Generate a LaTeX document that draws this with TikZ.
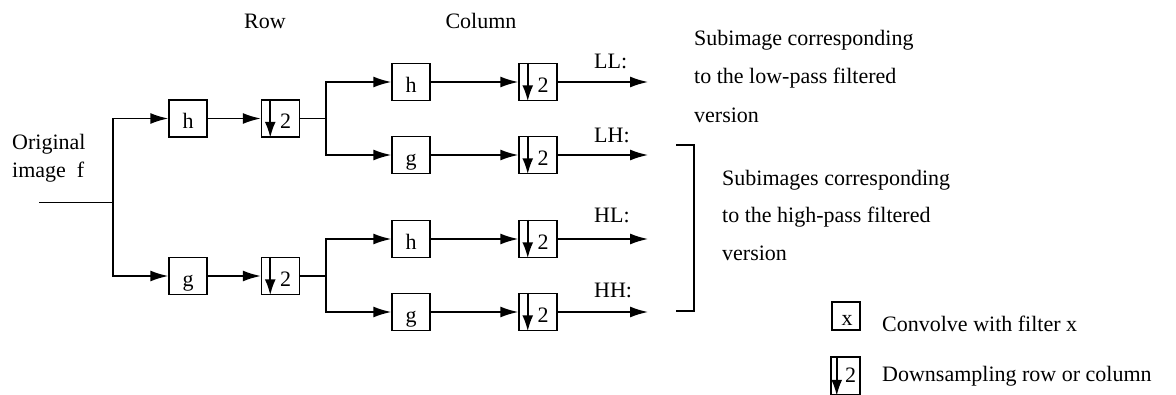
\documentclass[tikz,border=0pt]{standalone}
\usepackage{fontspec}
\setmainfont{Liberation Serif}
\usetikzlibrary{arrows.meta}
\tikzset{
  every node/.style={font=\fontsize{22}{26}\selectfont},
  conn/.style={line width=1.5pt},
  arr/.style={conn,-{Latex[length=18pt,width=11pt]}},
  dnarr/.style={line width=2pt,-{Latex[length=16pt,width=11pt]}},
  fbox/.style={draw,line width=1.5pt,minimum width=38pt,minimum height=37pt,inner sep=0pt,text height=20pt,text depth=0pt},
  dbox/.style={fbox},
  txt/.style={inner sep=0pt,anchor=base west},
}
\newcommand{\dnin}[2]{\draw[dnarr] ([xshift=#2]#1.north west) -- ([xshift=#2]#1.south west);}
\begin{document}
\begin{tikzpicture}[x=1pt,y=-1pt]
\clip (0,0) rectangle (1176,394);
% titles
\node[inner sep=0pt,anchor=base] (row) at (265,28) {Row};
\node[inner sep=0pt,anchor=base] (col) at (481,28) {Column};
\node[txt] (orig1) at (12,149) {Original};
\node[txt] (orig2) at (12,177) {image\ \ f};
% input
\coordinate (in) at (39,202.5);
\coordinate (sp) at (113,202.5);
% row stage
\node[fbox] (h1) at (188,118.5) {h};
\node[dbox] (d1) at (280.5,118.5) {\hspace*{10pt}2};
\node[fbox] (g1) at (188,276) {g};
\node[dbox] (d2) at (280.5,276) {\hspace*{10pt}2};
\dnin{d1}{9.5pt}
\dnin{d2}{9.5pt}
\coordinate (b1) at (326,118.5);
\coordinate (b2) at (326,276);
% column stage
\node[fbox] (h2) at (411,82) {h};
\node[fbox] (g2) at (411,155) {g};
\node[fbox] (h3) at (411,239) {h};
\node[fbox] (g3) at (411,312) {g};
\node[dbox] (d3) at (538,82) {\hspace*{10pt}2};
\node[dbox] (d4) at (538,155) {\hspace*{10pt}2};
\node[dbox] (d5) at (538,239) {\hspace*{10pt}2};
\node[dbox] (d6) at (538,312) {\hspace*{10pt}2};
\dnin{d3}{9.5pt}
\dnin{d4}{9.5pt}
\dnin{d5}{9.5pt}
\dnin{d6}{9.5pt}
\coordinate (o1) at (648,82);
\coordinate (o2) at (648,155);
\coordinate (o3) at (648,239);
\coordinate (o4) at (648,312);
% connectors
\draw[conn] (in) -- (sp);
\draw[arr] (sp) |- (h1.west);
\draw[arr] (sp) |- (g1.west);
\draw[arr] (h1) -- (d1);
\draw[arr] (g1) -- (d2);
\draw[conn] (d1.east) -- (b1);
\draw[conn] (d2.east) -- (b2);
\draw[arr] (b1) |- (h2.west);
\draw[arr] (b1) |- (g2.west);
\draw[arr] (b2) |- (h3.west);
\draw[arr] (b2) |- (g3.west);
\draw[arr] (h2) -- (d3);
\draw[arr] (g2) -- (d4);
\draw[arr] (h3) -- (d5);
\draw[arr] (g3) -- (d6);
\draw[arr] (d3.east) -- (o1);
\draw[arr] (d4.east) -- (o2);
\draw[arr] (d5.east) -- (o3);
\draw[arr] (d6.east) -- (o4);
% output labels
\node[txt] (LL) at (594,68) {LL:};
\node[txt] (LH) at (594,142) {LH:};
\node[txt] (HL) at (594,222) {HL:};
\node[txt] (HH) at (594,297) {HH:};
% bracket
\coordinate (bt) at (676,145);
\coordinate (bb) at (676,311);
\draw[conn] (bt) -- ++(18,0) |- (bb);
% descriptions
\node[txt] (s1) at (694,45) {Subimage corresponding};
\node[txt] (s2) at (694,83) {to the low-pass filtered};
\node[txt] (s3) at (694,122) {version};
\node[txt] (t1) at (722,185) {Subimages corresponding};
\node[txt] (t2) at (722,222) {to the high-pass filtered};
\node[txt] (t3) at (722,260) {version};
% legend
\node[fbox,minimum width=28pt,minimum height=28pt,text height=19pt] (lx) at (846,316) {\hspace*{2pt}x};
\node[txt] (lxt) at (882,331) {Convolve with filter x};
\node[fbox,minimum width=29pt,minimum height=38pt,text height=17pt,text depth=5pt] (ld) at (845.5,376) {\hspace*{10pt}2};
\dnin{ld}{6.5pt}
\node[txt] (ldt) at (882,381) {Downsampling row or column};
\end{tikzpicture}
\end{document}
